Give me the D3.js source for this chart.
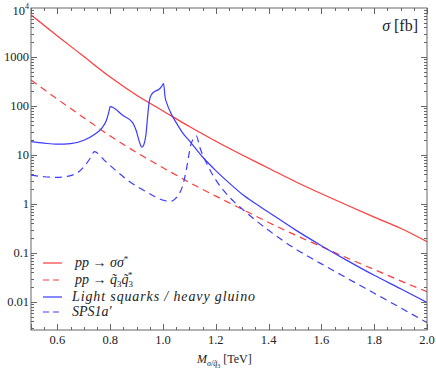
<!DOCTYPE html>
<html><head><meta charset="utf-8">
<script src="https://cdn.jsdelivr.net/npm/d3@7"></script>
<style>
html,body{margin:0;padding:0;background:#fff;}
svg text{font-family:"Liberation Serif","DejaVu Serif",serif;fill:#222;}
</style></head>
<body><svg id="c" width="436" height="371"></svg>
<script>
// ---- data ----
const redSolidM = [0.5,0.6,0.7,0.8,0.9,1.0,1.1,1.2,1.3,1.4,1.5,1.6,1.7,1.8,1.9,2.0];
const redSolidV = [7244,2692,1023,389,166,79.4,38.0,19.1,10.0,5.37,2.88,1.62,0.93,0.54,0.32,0.17];

const redDashM = [0.5,0.6,0.7,0.8,0.9,1.0,1.1,1.2,1.3,1.4,1.5,1.6,1.7,1.8,1.9,2.0];
const redDashV = [339,138,57.5,24.5,11.2,5.5,2.75,1.45,0.78,0.42,0.234,0.135,0.078,0.046,0.027,0.0162];

const blueSolidM = [0.5,0.55,0.6,0.65,0.7,0.74,0.77,0.785,0.795,0.8,0.85,0.885,0.898,0.91,0.92,0.928,0.935,0.942,0.948,0.955,0.97,0.985,0.995,1.002,1.008,1.015,1.03,1.05,1.075,1.1,1.15,1.2,1.25,1.3,1.35,1.4,1.5,1.6,1.7,1.8,1.9,2.0];
const blueSolidV = [18.7,17.4,16.6,17.0,20.0,26.3,36.3,50,76,97,63,45.7,32,19,14.4,16.6,25,63,126,166,200,219,251,288,151,112,71,45.7,28,19.5,9.1,4.8,2.7,1.58,1.02,0.68,0.30,0.141,0.069,0.035,0.0186,0.0098];

const blueDashM = [0.5,0.55,0.6,0.65,0.68,0.705,0.725,0.74,0.78,0.82,0.87,0.92,0.97,1.0,1.025,1.045,1.06,1.075,1.09,1.105,1.118,1.126,1.14,1.17,1.2,1.25,1.3,1.4,1.5,1.6,1.7,1.8,1.9,2.0];
const blueDashV = [3.9,3.6,3.5,3.8,4.5,6.2,8.7,11.7,7.6,4.9,2.95,2.0,1.41,1.2,1.12,1.26,1.58,2.4,5.6,15.8,22.9,24.5,14.1,6.0,3.1,1.41,0.79,0.29,0.123,0.060,0.030,0.0151,0.0076,0.0038];

const xMajorTicks = [0.6,0.8,1.0,1.2,1.4,1.6,1.8,2.0];
const xTickLabels = ["0.6","0.8","1.0","1.2","1.4","1.6","1.8","2.0"];
const yMajorTicks = [0.01,0.1,1,10,100,1000,10000];
const yTickLabels = ["0.01","0.1","1","10","100","1000","10^4"];

// ---- layout ----
const L=31, R=427, T=8, B=330;
const svg = d3.select("#c");
const x = d3.scaleLinear().domain([0.5,2.0]).range([L,R]);
const y = d3.scaleLog().domain([Math.pow(10,-2-28/49),1e4]).range([B,T]);

const red="#ff3b3b", blue="#3b3bff";

svg.append("defs").append("clipPath").attr("id","clip")
  .append("rect").attr("x",L).attr("y",T).attr("width",R-L).attr("height",B-T);

const line = d3.line().x(d=>x(d[0])).y(d=>y(d[1])).curve(d3.curveMonotoneX);
const series = [
  {m:redSolidM, v:redSolidV, c:red, dash:null},
  {m:redDashM, v:redDashV, c:red, dash:"7,5"},
  {m:blueSolidM, v:blueSolidV, c:blue, dash:null},
  {m:blueDashM, v:blueDashV, c:blue, dash:"7,5"}
];
const g = svg.append("g").attr("clip-path","url(#clip)");
series.forEach(s=>{
  g.append("path").datum(s.m.map((m,i)=>[m,s.v[i]]))
   .attr("d",line).attr("fill","none").attr("stroke",s.c)
   .attr("stroke-width",1.2).attr("stroke-dasharray",s.dash);
});

// ---- frame & ticks ----
const ax = svg.append("g").attr("stroke","#666").attr("stroke-width",1);
ax.append("rect").attr("x",L).attr("y",T).attr("width",R-L).attr("height",B-T).attr("fill","none");
const xMinor = d3.range(0,31).map(i=>0.5+i*0.05);
xMinor.forEach(v=>{
  const major = xMajorTicks.some(t=>Math.abs(t-v)<1e-6) || Math.abs(v-0.5)<1e-6 || Math.abs(v-1.0)<1e-6;
  const len = major?6:3;
  const xx = Math.round(x(v))+0.5;
  ax.append("line").attr("x1",xx).attr("x2",xx).attr("y1",B).attr("y2",B-len);
  ax.append("line").attr("x1",xx).attr("x2",xx).attr("y1",T).attr("y2",T+len);
});
for(let e=-3;e<=3;e++){
  for(let k=1;k<=9;k++){
    const v=k*Math.pow(10,e);
    if(v<y.domain()[0]||v>1e4) continue;
    const len = k===1?6:3;
    const yy = Math.round(y(v))+0.5;
    ax.append("line").attr("x1",L).attr("x2",L+len).attr("y1",yy).attr("y2",yy);
    ax.append("line").attr("x1",R).attr("x2",R-len).attr("y1",yy).attr("y2",yy);
  }
}

// tick labels
svg.append("g").selectAll("text").data(xMajorTicks).join("text")
  .attr("x",d=>x(d)).attr("y",344).attr("text-anchor","middle")
  .attr("font-size",12.5).text((d,i)=>xTickLabels[i]);
yMajorTicks.forEach((v,i)=>{
  const lab = yTickLabels[i];
  const t = svg.append("text").attr("x",29).attr("y",y(v)+4).attr("text-anchor","end").attr("font-size",12.5);
  if(lab.includes("^")){
    const [b,p]=lab.split("^");
    t.attr("y",y(v)+7);
    t.append("tspan").text(b);
    t.append("tspan").attr("dy",-6).attr("font-size",8).text(p);
  } else t.text(lab);
});

// title
const tt = svg.append("text").attr("x",418).attr("y",31).attr("text-anchor","end").attr("font-size",16);
tt.append("tspan").attr("font-style","italic").text("σ");
tt.append("tspan").text(" [fb]");

// x axis title
const xt = svg.append("text").attr("x",197).attr("y",363).attr("font-size",12);
xt.append("tspan").attr("font-style","italic").text("M");
xt.append("tspan").attr("dy",3).attr("font-size",8).attr("font-style","italic").text("σ/q̃");
xt.append("tspan").attr("dy",2).attr("font-size",6).text("3");
xt.append("tspan").attr("dy",-5).text(" [TeV]");

// legend
const leg = [
  {c:red, dash:null, y:263},
  {c:red, dash:"7,5", y:280},
  {c:blue, dash:null, y:297},
  {c:blue, dash:"7,5", y:312}
];
leg.forEach((l,i)=>{
  svg.append("line").attr("x1",43).attr("x2",62).attr("y1",l.y).attr("y2",l.y)
    .attr("stroke",l.c).attr("stroke-width",1.2).attr("stroke-dasharray",l.dash?"6,4":null);
});
const fs=14;
let t1 = svg.append("text").attr("x",75).attr("y",267).attr("font-size",fs).attr("font-style","italic");
t1.append("tspan").text("pp");
t1.append("tspan").attr("font-style","normal").text(" → ");
t1.append("tspan").text("σσ");
t1.append("tspan").attr("dy",-5).attr("font-size",9).attr("font-style","normal").text("*");

let t2 = svg.append("text").attr("x",75).attr("y",284).attr("font-size",fs).attr("font-style","italic");
t2.append("tspan").text("pp");
t2.append("tspan").attr("font-style","normal").text(" → ");
t2.append("tspan").text("q̃");
t2.append("tspan").attr("dy",3).attr("font-size",9).attr("font-style","normal").text("3");
t2.append("tspan").attr("dy",-3).text("q̃");
t2.append("tspan").attr("dy",3).attr("font-size",9).attr("font-style","normal").text("3");
t2.append("tspan").attr("dy",-9).attr("dx",-5).attr("font-size",9).attr("font-style","normal").text("*");

svg.append("text").attr("x",72).attr("y",301).attr("font-size",fs).attr("font-style","italic")
  .attr("textLength",183).attr("lengthAdjust","spacing").text("Light squarks / heavy gluino");
svg.append("text").attr("x",72).attr("y",316).attr("font-size",fs).attr("font-style","italic")
  .text("SPS1a′");
</script></body></html>
